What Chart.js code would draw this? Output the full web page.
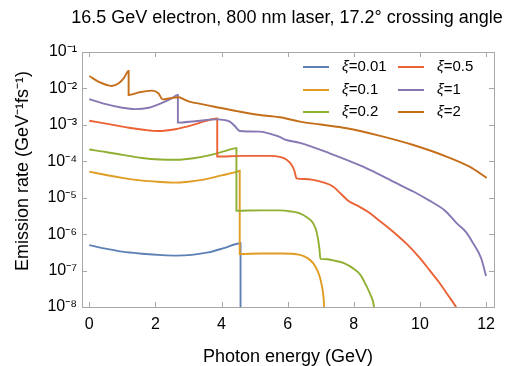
<!DOCTYPE html>
<html>
<head>
<meta charset="utf-8">
<script src="https://cdn.jsdelivr.net/npm/chart.js@4.4.1/dist/chart.umd.min.js"></script>
<style>
html, body { margin: 0; padding: 0; background: #fff; }
</style>
</head>
<body>
<canvas id="rateChart" width="506" height="366"></canvas>
<script>
// values (x in GeV, y in GeV^-1 fs^-1)
const xiLabels = ['0.01', '0.1', '0.2', '0.5', '1', '2'];
const lineColors = ['#5E81B5', '#E19C24', '#8FB032', '#EB6235', '#8778B3', '#C56E1A'];

const energyXi001 = [0, 0.5, 1.0, 1.6, 2.2, 2.64, 3.1, 3.6, 4.1, 4.575, 4.575];
const rateXi001 = [5.0e-7, 4.0e-7, 3.3e-7, 2.9e-7, 2.65e-7, 2.57e-7, 2.7e-7, 3.15e-7, 4.2e-7, 5.6e-7, 1e-10];

const energyXi01 = [0, 0.5, 1.0, 1.6, 2.2, 2.54, 3.0, 3.5, 4.0, 4.45, 4.55, 4.55, 5.2, 5.8, 6.37, 6.6, 6.77, 6.9, 6.97, 7.03, 7.07, 7.1, 7.12];
const rateXi01 = [5.2e-5, 4.2e-5, 3.5e-5, 2.95e-5, 2.7e-5, 2.6e-5, 2.75e-5, 3.2e-5, 4.1e-5, 5.1e-5, 5.5e-5, 2.85e-7, 2.95e-7, 2.95e-7, 2.7e-7, 2.2e-7, 1.6e-7, 1.0e-7, 6.8e-8, 4.0e-8, 2.4e-8, 1.0e-8, 1e-9];

const energyXi02 = [0, 0.5, 1.0, 1.6, 2.13, 2.64, 3.2, 3.65, 4.1, 4.45, 4.45, 5.2, 5.76, 6.1, 6.37, 6.6, 6.77, 6.88, 6.96, 6.99, 7.2, 7.38, 7.7, 7.98, 8.2, 8.34, 8.5, 8.61, 8.7];
const rateXi02 = [2.1e-4, 1.8e-4, 1.5e-4, 1.23e-4, 1.12e-4, 1.1e-4, 1.23e-4, 1.48e-4, 1.9e-4, 2.3e-4, 4.4e-6, 4.5e-6, 4.5e-6, 4.2e-6, 3.7e-6, 2.8e-6, 2.0e-6, 1.1e-6, 4.0e-7, 2.1e-7, 2.05e-7, 1.9e-7, 1.6e-7, 1.15e-7, 7.6e-8, 4.5e-8, 2.2e-8, 1.0e-8, 1e-9];

const energyXi05 = [0, 0.6, 1.2, 1.7, 2.09, 2.6, 3.14, 3.5, 3.87, 3.87, 4.65, 5.46, 5.76, 5.97, 6.12, 6.2, 6.27, 6.5, 6.77, 7.1, 7.38, 7.6, 7.83, 8.18, 8.45, 8.69, 9.19, 9.6, 10.0, 10.3, 10.6, 10.85, 11.09, 11.3];
const rateXi05 = [1.3e-3, 1.05e-3, 8.3e-4, 7.2e-4, 6.8e-4, 7.6e-4, 1.0e-3, 1.26e-3, 1.5e-3, 1.35e-4, 1.41e-4, 1.41e-4, 1.32e-4, 1.1e-4, 7.9e-5, 5.6e-5, 3.4e-5, 3.25e-5, 3.1e-5, 2.6e-5, 2.0e-5, 1.3e-5, 8.3e-6, 5.6e-6, 4.0e-6, 2.7e-6, 1.17e-6, 5.4e-7, 2.2e-7, 1.0e-7, 4.5e-8, 2.1e-8, 1.0e-8, 4e-9];

const energyXi1 = [0, 0.5, 1.0, 1.39, 1.8, 2.2, 2.5, 2.68, 2.68, 3.2, 3.85, 4.1, 4.25, 4.4, 4.55, 4.8, 5.16, 5.5, 5.76, 5.9, 6.37, 7.27, 8.28, 9.29, 9.8, 10.25, 10.76, 11.11, 11.4, 11.61, 11.85, 12.0];
const rateXi1 = [5.1e-3, 3.7e-3, 2.95e-3, 2.7e-3, 2.95e-3, 4.0e-3, 5.4e-3, 6.6e-3, 1.15e-3, 1.26e-3, 1.41e-3, 1.35e-3, 1.23e-3, 9.3e-4, 6.8e-4, 6.6e-4, 6.5e-4, 5.6e-4, 4.7e-4, 4.0e-4, 3.2e-4, 1.66e-4, 7.1e-5, 2.5e-5, 1.48e-5, 8.7e-6, 4.4e-6, 2.0e-6, 1.12e-6, 5.6e-7, 2.2e-7, 7.1e-8];

const energyXi2 = [0, 0.3, 0.68, 0.9, 1.05, 1.19, 1.19, 1.5, 1.89, 2.09, 2.22, 2.45, 2.7, 2.85, 3.0, 3.2, 3.4, 3.75, 4.5, 5.16, 5.76, 6.37, 7.0, 7.78, 8.8, 9.8, 10.8, 11.5, 12.02];
const rateXi2 = [2.2e-2, 1.5e-2, 1.17e-2, 1.4e-2, 1.95e-2, 3.0e-2, 6.6e-3, 7.8e-3, 8.7e-3, 7.4e-3, 5.0e-3, 5.4e-3, 5.75e-3, 5.1e-3, 4.4e-3, 4.0e-3, 3.7e-3, 3.2e-3, 2.35e-3, 1.86e-3, 1.62e-3, 1.23e-3, 1.02e-3, 8.1e-4, 5.0e-4, 2.8e-4, 1.35e-4, 7.1e-5, 3.5e-5];

const xTickValues = [0, 2, 4, 6, 8, 10, 12];
const yTickValues = [1e-8, 1e-7, 1e-6, 1e-5, 1e-4, 1e-3, 1e-2, 1e-1];
const yTickLabels = ['10⁻⁸', '10⁻⁷', '10⁻⁶', '10⁻⁵', '10⁻⁴', '10⁻³', '10⁻²', '10⁻¹'];

const FONT = '"Liberation Sans", Arial, Helvetica, sans-serif';

const seriesX = [energyXi001, energyXi01, energyXi02, energyXi05, energyXi1, energyXi2];
const seriesY = [rateXi001, rateXi01, rateXi02, rateXi05, rateXi1, rateXi2];

const datasets = xiLabels.map((lab, i) => ({
    label: 'ξ=' + lab,
    data: seriesX[i].map((x, k) => ({ x: x, y: seriesY[i][k] })),
    borderColor: lineColors[i],
    backgroundColor: lineColors[i],
    borderWidth: 1.9,
    pointRadius: 0,
    fill: false,
    cubicInterpolationMode: 'monotone',
    order: xiLabels.length - i
}));

// frame with inward ticks, title, y label and the two-column legend
const framePlugin = {
    id: 'frameAndLegend',
    afterDraw: function(chart) {
        const ctx = chart.ctx;
        const a = chart.chartArea;
        const xs = chart.scales.x;
        const ys = chart.scales.y;
        ctx.save();
        ctx.strokeStyle = '#a8a8a8';
        ctx.lineWidth = 1;
        ctx.strokeRect(a.left + 0.5, a.top + 0.5, a.right - a.left, a.bottom - a.top);
        ctx.beginPath();
        xTickValues.forEach(v => {
            const px = Math.round(xs.getPixelForValue(v)) + 0.5;
            ctx.moveTo(px, a.bottom); ctx.lineTo(px, a.bottom - 5);
            ctx.moveTo(px, a.top); ctx.lineTo(px, a.top + 5);
        });
        yTickValues.forEach(v => {
            const py = Math.round(ys.getPixelForValue(v)) + 0.5;
            ctx.moveTo(a.left, py); ctx.lineTo(a.left + 5, py);
            ctx.moveTo(a.right, py); ctx.lineTo(a.right - 5, py);
        });
        ctx.stroke();

        ctx.fillStyle = '#000';
        ctx.textAlign = 'center';
        ctx.textBaseline = 'middle';
        ctx.font = '18px ' + FONT;
        ctx.fillText('16.5 GeV electron, 800 nm laser, 17.2° crossing angle', 287, 18);

        ctx.save();
        ctx.translate(23, 171);
        ctx.rotate(-Math.PI / 2);
        ctx.fillText('Emission rate (GeV⁻¹fs⁻¹)', 0, 0);
        ctx.restore();

        // legend, column by column
        const colLine = [303, 398];
        const rowY = [67, 90, 112];
        chart.data.datasets.forEach((ds, i) => {
            const col = Math.floor(i / 3);
            const row = i % 3;
            const y = rowY[row];
            ctx.strokeStyle = ds.borderColor;
            ctx.lineWidth = 2;
            ctx.beginPath();
            ctx.moveTo(colLine[col], y);
            ctx.lineTo(colLine[col] + 26, y);
            ctx.stroke();
            ctx.textAlign = 'left';
            let tx = colLine[col] + 39;
            ctx.font = 'italic 15px ' + FONT;
            ctx.fillText('ξ', tx, y);
            tx += ctx.measureText('ξ').width;
            ctx.font = '15px ' + FONT;
            ctx.fillText('=' + xiLabels[i], tx, y);
        });
        ctx.restore();
    }
};

const rateCtx = document.getElementById('rateChart').getContext('2d');
const rateChart = new Chart(rateCtx, {
    type: 'line',
    data: { datasets: datasets },
    options: {
        responsive: false,
        animation: false,
        devicePixelRatio: 1,
        layout: { padding: { left: 0, right: 12, top: 52, bottom: 0 } },
        plugins: {
            legend: { display: false },
            tooltip: { enabled: false }
        },
        scales: {
            x: {
                type: 'linear',
                min: -0.22,
                max: 12.24,
                grid: { display: false, drawTicks: false },
                border: { display: false },
                afterBuildTicks: function(scale) {
                    scale.ticks = xTickValues.map(v => ({ value: v }));
                },
                afterFit: function(scale) { scale.height = 59; },
                ticks: {
                    color: '#000',
                    padding: 8,
                    maxRotation: 0,
                    font: { family: FONT, size: 16 }
                },
                title: {
                    display: true,
                    text: 'Photon energy (GeV)',
                    color: '#000',
                    padding: { top: 0, bottom: 0 },
                    font: { family: FONT, size: 18, lineHeight: 1 }
                }
            },
            y: {
                type: 'logarithmic',
                min: 1e-8,
                max: 1e-1,
                grid: { display: false, drawTicks: false },
                border: { display: false },
                afterBuildTicks: function(scale) {
                    scale.ticks = yTickValues.map(v => ({ value: v }));
                },
                afterFit: function(scale) { scale.width = 82; },
                ticks: {
                    color: '#000',
                    padding: 5,
                    font: { family: FONT, size: 16 },
                    callback: function(value) {
                        const k = yTickValues.findIndex(v => Math.abs(Math.log10(v) - Math.log10(value)) < 1e-6);
                        return k >= 0 ? yTickLabels[k] : '';
                    }
                }
            }
        }
    },
    plugins: [framePlugin]
});
</script>
</body>
</html>
